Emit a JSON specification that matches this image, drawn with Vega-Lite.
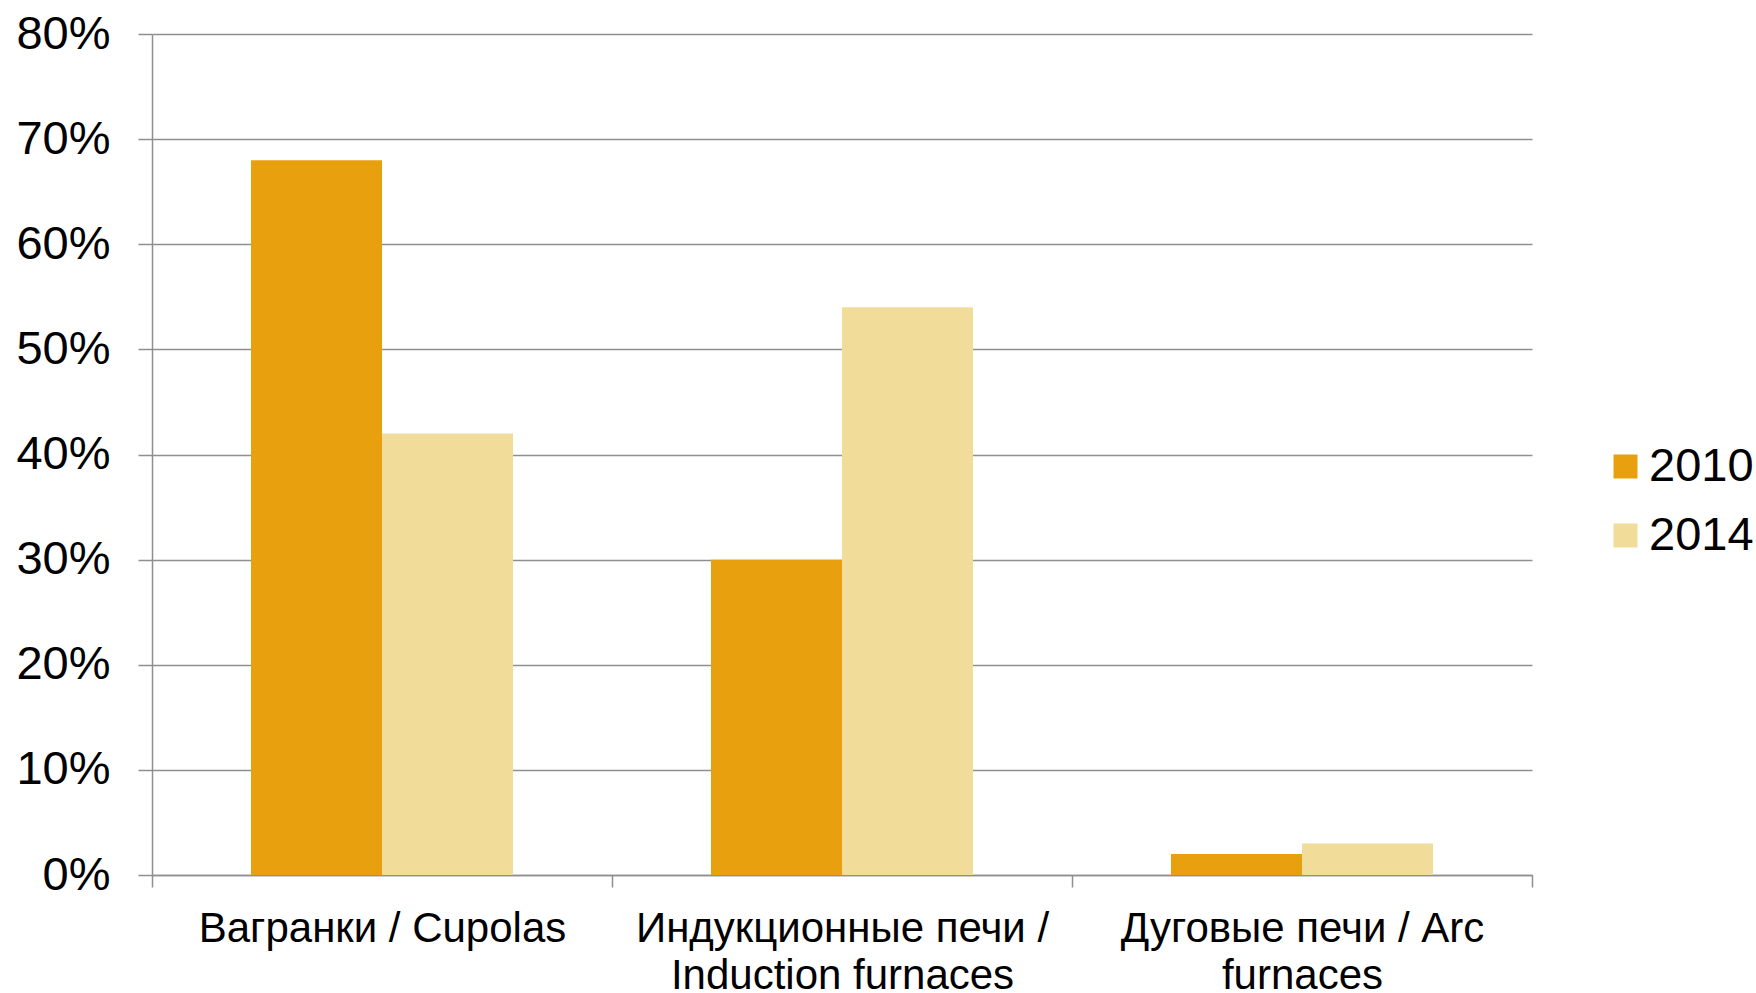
{
  "$schema": "https://vega.github.io/schema/vega-lite/v6.json",
  "width": 1380,
  "height": 841,
  "autosize": {"type": "none"},
  "padding": {"left": 152, "top": 34, "right": 224, "bottom": 118},
  "background": "white",
  "config": {"view": {"stroke": null}, "font": "Liberation Sans"},
  "data": {
    "values": [
      {"category": "Вагранки / Cupolas", "year": "2010", "share": 0.68},
      {"category": "Вагранки / Cupolas", "year": "2014", "share": 0.42},
      {"category": "Индукционные печи / Induction furnaces", "year": "2010", "share": 0.30},
      {"category": "Индукционные печи / Induction furnaces", "year": "2014", "share": 0.54},
      {"category": "Дуговые печи / Arc furnaces", "year": "2010", "share": 0.02},
      {"category": "Дуговые печи / Arc furnaces", "year": "2014", "share": 0.03}
    ]
  },
  "mark": {"type": "bar"},
  "encoding": {
    "x": {
      "field": "category",
      "type": "nominal",
      "sort": ["Вагранки / Cupolas", "Индукционные печи / Induction furnaces", "Дуговые печи / Arc furnaces"],
      "scale": {"paddingInner": 0, "paddingOuter": 0},
      "axis": {
        "title": null,
        "labelAngle": 0,
        "labelFontSize": 42,
        "labelColor": "#000000",
        "labelPadding": 21,
        "labelLineHeight": 47,
        "labelBaseline": "top",
        "labelLimit": 0,
        "tickBand": "extent",
        "tickSize": 12,
        "tickColor": "#8f8f8f",
        "tickWidth": 1.5,
        "domainColor": "#8f8f8f",
        "domainWidth": 1.5,
        "grid": false,
        "labelExpr": "datum.value == 'Индукционные печи / Induction furnaces' ? ['Индукционные печи /', 'Induction furnaces'] : datum.value == 'Дуговые печи / Arc furnaces' ? ['Дуговые печи / Arc', 'furnaces'] : datum.value"
      }
    },
    "xOffset": {
      "field": "year",
      "type": "nominal",
      "scale": {"paddingInner": 0, "paddingOuter": 0.7557}
    },
    "y": {
      "field": "share",
      "type": "quantitative",
      "scale": {"domain": [0, 0.8], "nice": false},
      "axis": {
        "title": null,
        "format": ".0%",
        "values": [0, 0.1, 0.2, 0.3, 0.4, 0.5, 0.6, 0.7, 0.8],
        "labelFontSize": 47,
        "labelColor": "#000000",
        "labelPadding": 28,
        "tickSize": 14,
        "tickColor": "#8f8f8f",
        "tickWidth": 1.5,
        "domainColor": "#8f8f8f",
        "domainWidth": 1.5,
        "grid": true,
        "gridColor": "#8f8f8f",
        "gridWidth": 1.5
      }
    },
    "color": {
      "field": "year",
      "type": "nominal",
      "scale": {"domain": ["2010", "2014"], "range": ["#E9A00F", "#F2DC99"]},
      "legend": {
        "title": null,
        "orient": "none",
        "legendX": 1450,
        "legendY": 409,
        "padding": 0,
        "symbolType": "square",
        "symbolSize": 576,
        "symbolStrokeWidth": 0,
        "labelFontSize": 47,
        "labelColor": "#000000",
        "labelOffset": 0,
        "labelLimit": 0,
        "rowPadding": 21
      }
    }
  }
}
